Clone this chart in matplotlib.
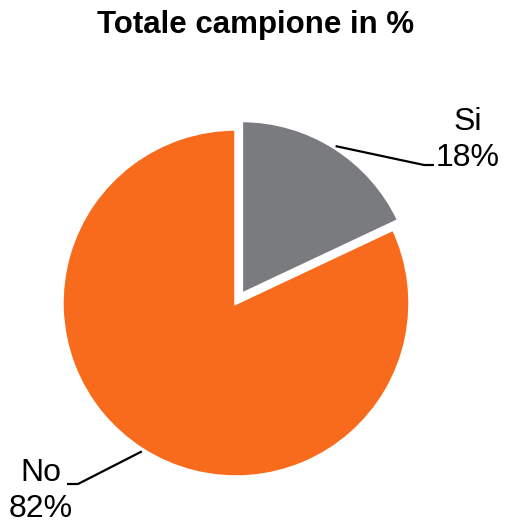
import matplotlib.pyplot as plt
import numpy as np

plt.rcParams['font.family'] = ['Liberation Sans', 'DejaVu Sans']

labels = ["Si", "No"]
values = [18, 82]
colors = ["#7a7b7f", "#f96b1c"]
title = "Totale campione in %"

W, H = 508, 524
fig = plt.figure(figsize=(W / 100, H / 100), dpi=100)
ax = fig.add_axes([0, 0, 1, 1])
ax.set_xlim(0, W)
ax.set_ylim(0, H)
ax.set_aspect("equal")
ax.axis("off")

center = (236, H - 303)
radius = 174
# pie() offsets exploded wedges in data units, not radius fractions
explode = [0.058 * radius, 0]

wedges, _ = ax.pie(values, colors=colors, startangle=90, counterclock=False,
				   explode=explode, center=center, radius=radius,
				   wedgeprops=dict(edgecolor="white", linewidth=2.5))
ax.set_xlim(0, W)
ax.set_ylim(0, H)

# leader lines and labels
text_pos = {"Si": (468, H - 140), "No": (41, H - 491)}
elbow = {"Si": (424, H - 165, 434), "No": (78, H - 484, 67)}
for w, lab, v in zip(wedges, labels, values):
	ang = np.deg2rad((w.theta1 + w.theta2) / 2)
	cx, cy = w.center
	sx = cx + w.r * 1.01 * np.cos(ang)
	sy = cy + w.r * 1.01 * np.sin(ang)
	ex, ey, hx = elbow[lab]
	ax.plot([sx, ex, hx], [sy, ey, ey], color="black", lw=1.6, solid_capstyle="butt")
	tx, ty = text_pos[lab]
	ax.text(tx, ty, f"{lab}\n{v}%", ha="center", va="center", fontsize=23,
			linespacing=1.24)

ax.text(256, H - 25, title, ha="center", va="center", fontsize=22.5, fontweight="bold")

fig.savefig("out.png", dpi=100)
